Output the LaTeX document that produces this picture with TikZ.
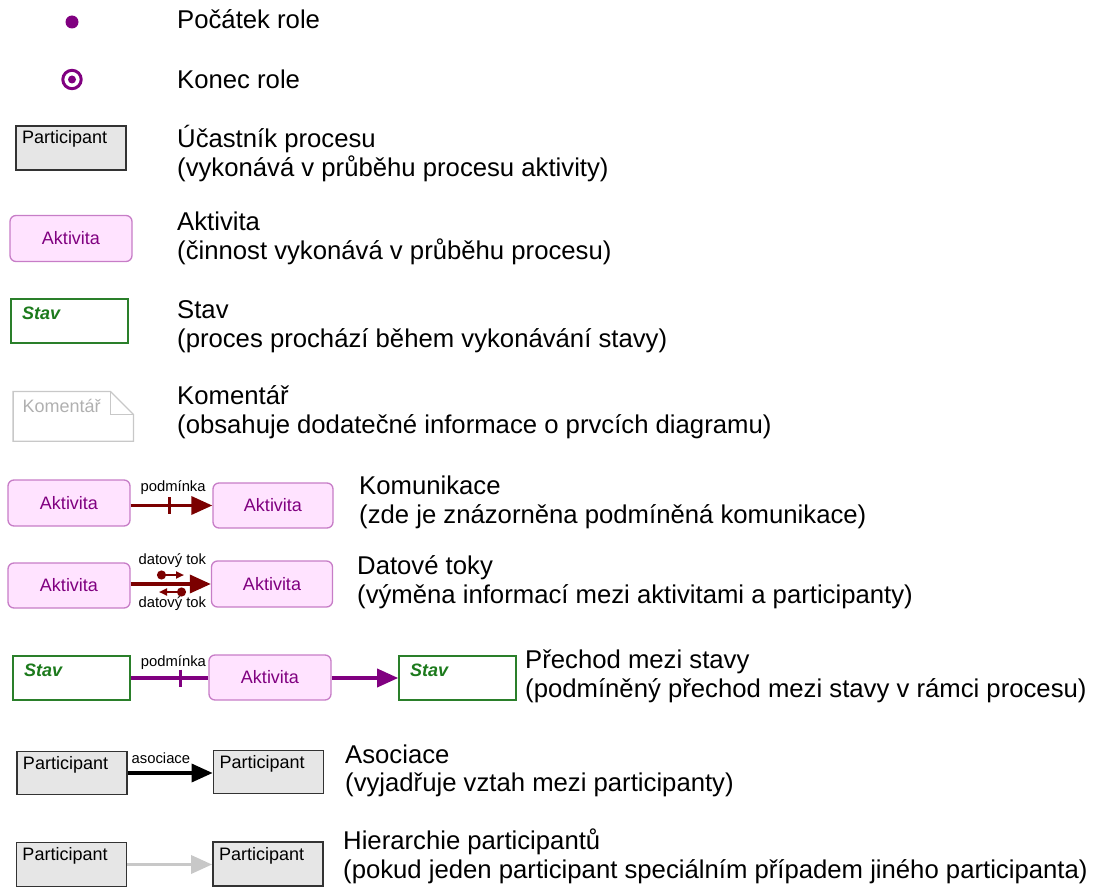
\documentclass[tikz,border=0pt]{standalone}
\usepackage{fontspec}
\setmainfont{Liberation Sans}
\usepackage{xcolor}
\definecolor{rolepurple}{HTML}{800080}
\definecolor{actfill}{HTML}{FFE3FF}
\definecolor{actdraw}{HTML}{C77DC7}
\definecolor{partfill}{HTML}{E6E6E6}
\definecolor{partdraw}{HTML}{333333}
\definecolor{stavgreen}{HTML}{2A7F2A}
\definecolor{stavtext}{HTML}{1C7A1C}
\definecolor{notegray}{HTML}{C8C8C8}
\definecolor{notetext}{HTML}{B0B0B0}
\definecolor{commred}{HTML}{7B0000}
\usetikzlibrary{calc,arrows.meta}

\begin{document}
\begin{tikzpicture}[
		x=1pt, y=-1pt,
		desc/.style={anchor=base west, align=left, inner sep=0pt, font=\fontsize{25.7}{28.7}\selectfont},
		participant/.style={draw=partdraw, fill=partfill, line width=1.8pt, inner xsep=6pt, inner ysep=3pt, text width=98pt, text height=15pt, text depth=23pt, align=left, font=\fontsize{18}{21}\selectfont},
		aktivita/.style={draw=actdraw, fill=actfill, line width=1.3pt, rounded corners=6pt, minimum width=122pt, minimum height=46pt, inner sep=0pt, text=rolepurple, font=\fontsize{18}{21}\selectfont},
		stavbox/.style={draw=stavgreen, line width=1.6pt, inner xsep=11pt, inner ysep=3pt, text width=95pt, text height=17pt, text depth=21pt, align=left, text=stavtext, font=\fontsize{18}{21}\selectfont\bfseries\itshape},
		notebox/.style={inner xsep=9.4pt, inner ysep=3pt, text width=101.2pt, text height=18.3pt, text depth=25pt, align=left, text=notetext, font=\fontsize{18}{21}\selectfont},
		flowlabel/.style={inner sep=0pt, anchor=base, text=black, font=\fontsize{14.8}{17}\selectfont},
		headtip/.style={-{Triangle[length=21pt,width=18pt]}},
		comm/.style={commred, line width=3.5pt, headtip},
		transit/.style={rolepurple, line width=3.5pt},
		tickmark/.style={line width=3pt},
		flowtip/.style={commred, line width=2pt, {Circle[length=9pt]}-{Triangle[length=8pt,width=7pt]}},
	]
		\useasboundingbox (0,0) rectangle (1101,888);

		% Descriptions (y = baseline of the last line)
		\foreach \dname/\xpos/\ypos/\dtext in {
			poc/177/28.3/{Počátek role},
			kon/177/88.3/{Konec role},
			ucast/177/176.5/{Účastník procesu\\(vykonává v průběhu procesu aktivity)},
			akt/177/259/{Aktivita\\(činnost vykonává v průběhu procesu)},
			stav/177/347.3/{Stav\\(proces prochází během vykonávání stavy)},
			kom/177/433/{Komentář\\(obsahuje dodatečné informace o prvcích diagramu)},
			komu/359/523.5/{Komunikace\\(zde je znázorněna podmíněná komunikace)},
			tok/357/603.3/{Datové toky\\(výměna informací mezi aktivitami a participanty)},
			prech/525/697/{Přechod mezi stavy\\(podmíněný přechod mezi stavy v rámci procesu)},
			asoc/345/791.7/{Asociace\\(vyjadřuje vztah mezi participanty)},
			hier/343/878.5/{Hierarchie participantů\\(pokud jeden participant speciálním případem jiného participanta)}} {
			\node[desc] (d\dname) at (\xpos,\ypos) {\dtext};
		}

		% Start and end of role
		\node[circle, fill=rolepurple, minimum size=13pt, inner sep=0pt] (start) at (72,22) {};
		\node[circle, draw=rolepurple, line width=3pt, minimum size=18.4pt, inner sep=0pt] (end) at (72,79.5) {};
		\fill[rolepurple] (end) circle (4);

		% Single elements
		\node[participant] (p1) at (71,148) {Participant};
		\node[aktivita] (a1) at (71,238.5) {Aktivita};
		\node[stavbox] (s1) at (69.5,321) {Stav};
		\node[notebox] (note) at (73.3,416.3) {Komentář};
		\draw[notegray, line width=1.3pt] (note.north west) -- ([xshift=-23pt]note.north east) -- ([yshift=-23pt]note.north east) -- (note.south east) -- (note.south west) -- cycle;
		\draw[notegray, line width=1.3pt] ([xshift=-23pt]note.north east) -- ([xshift=-23pt, yshift=-23pt]note.north east) -- ([yshift=-23pt]note.north east);

		% Komunikace
		\node[aktivita] (a2) at (69,503) {Aktivita};
		\node[aktivita, minimum width=120pt, minimum height=45pt] (a3) at (273,505.5) {Aktivita};
		\draw[comm] (a2.east |- a3) -- coordinate[pos=0.48] (t1) (a3.west)
			node[flowlabel, pos=0.52, yshift=13.6pt] (lpod1) {podmínka};
		\draw[commred, tickmark] ($(t1)+(0,-8.5)$) -- ($(t1)+(0,8.5)$);

		% Datove toky
		\node[aktivita, minimum height=45pt] (a4) at (69,585.5) {Aktivita};
		\node[aktivita, minimum width=121pt] (a5) at (272,584) {Aktivita};
		\draw[comm] (a4.east |- a5) -- (a5.west)
			node[flowlabel, pos=0.52, yshift=19.5pt] (ltok1) {datový tok}
			node[flowlabel, pos=0.52, yshift=-23.2pt] (ltok2) {datový tok};
		\coordinate (f1a) at (157,575);
		\coordinate (f1b) at (184,575);
		\coordinate (f2a) at (186,592);
		\coordinate (f2b) at (159,592);
		\draw[flowtip] (f1a) -- (f1b);
		\draw[flowtip] (f2a) -- (f2b);

		% Prechod mezi stavy
		\node[stavbox] (s2) at (71.5,678) {Stav};
		\node[aktivita, minimum height=45pt] (a6) at (270,677.5) {Aktivita};
		\node[stavbox] (s3) at (457.5,678) {Stav};
		\draw[transit] (s2.east) -- coordinate[pos=0.64] (t2) (s2.east -| a6.west)
			node[flowlabel, pos=0.55, yshift=11.7pt] (lpod2) {podmínka};
		\draw[rolepurple, tickmark] ($(t2)+(0,-8.5)$) -- ($(t2)+(0,8.5)$);
		\draw[transit, headtip] (a6.east |- s3) -- (s3.west);

		% Asociace
		\node[participant, text depth=22pt] (p2) at (72,773) {Participant};
		\node[participant, text depth=22pt] (p3) at (268.5,772) {Participant};
		\draw[black, line width=3.5pt, headtip] (p2.east) -- (p2.east -| p3.west)
			node[flowlabel, pos=0.39, yshift=9.3pt] (lasoc) {asociace};

		% Hierarchie participantu
		\node[participant] (p4) at (71.5,864.5) {Participant};
		\node[participant] (p5) at (268,864) {Participant};
		\draw[notegray, line width=3.5pt, headtip] (p4.east) -- (p4.east -| p5.west);
	\end{tikzpicture}
\end{document}
